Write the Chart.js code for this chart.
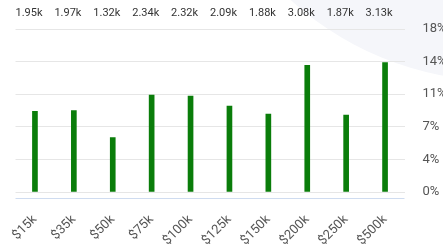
<!DOCTYPE html>
<html lang="en">
<head>
    <meta charset="UTF-8">
    <title>Income Distribution</title>
    <script src="https://cdn.jsdelivr.net/npm/chart.js"></script>
    <style>
        body {
            margin: 0;
            padding: 0;
            background: #fff;
            overflow: hidden;
        }

        /* a bit wider than the window so the right labels get cut like the original */
        .wrap {
            position: absolute;
            left: 0;
            top: 0;
            width: 460px;
            height: 248px;
        }
    </style>
</head>
<body>
    <div class="wrap"><canvas id="incomeChart"></canvas></div>

    <script>
        // Data
        const incomeLabels = ["$15k", "$35k", "$50k", "$75k", "$100k", "$125k", "$150k", "$200k", "$250k", "$500k"];
        const sharePercent = [8.9, 9.0, 6.0, 10.7, 10.6, 9.5, 8.6, 14.0, 8.5, 14.3];
        const countLabels = ["1.95k", "1.97k", "1.32k", "2.34k", "2.32k", "2.09k", "1.88k", "3.08k", "1.87k", "3.13k"];

        const fontFamily = "Roboto, 'Noto Sans', Arial, sans-serif";

        // faint circle in the top right corner + the bluish base line
        const decorPlugin = {
            id: "decor",
            beforeDraw(chart) {
                const c = chart.ctx;
                c.save();
                c.fillStyle = "#f5f6fa";
                c.beginPath();
                c.arc(500, -230, 311, 0, Math.PI * 2);
                c.fill();
                c.restore();
            },
            afterDraw(chart) {
                const c = chart.ctx;
                const area = chart.chartArea;
                c.save();
                c.strokeStyle = "#cfdcf0";
                c.lineWidth = 1;
                c.beginPath();
                c.moveTo(area.left, area.bottom + 6.5);
                c.lineTo(area.right, area.bottom + 6.5);
                c.stroke();
                c.restore();
            }
        };

        // count labels across the top, left aligned on each category
        const countPlugin = {
            id: "counts",
            afterDraw(chart) {
                const c = chart.ctx;
                const xScale = chart.scales.x;
                const slot = (xScale.right - xScale.left) / incomeLabels.length;
                c.save();
                c.font = "11px " + fontFamily;
                c.fillStyle = "#333";
                c.textAlign = "left";
                c.textBaseline = "middle";
                countLabels.forEach((txt, i) => {
                    c.fillText(txt, xScale.getPixelForValue(i) - slot / 2, 13);
                });
                c.restore();
            }
        };

        const ctx = document.getElementById("incomeChart").getContext("2d");
        new Chart(ctx, {
            type: "bar",
            data: {
                labels: incomeLabels,
                datasets: [{
                    data: sharePercent,
                    backgroundColor: "#0a7d0a",
                    barThickness: 5
                }]
            },
            options: {
                responsive: true,
                maintainAspectRatio: false,
                animation: false,
                layout: {
                    padding: { left: 15.5, top: 29, right: 0, bottom: 0 }
                },
                plugins: {
                    legend: { display: false },
                    tooltip: { enabled: false }
                },
                scales: {
                    x: {
                        grid: { display: false },
                        border: { display: false },
                        ticks: {
                            autoSkip: false,
                            minRotation: 45,
                            maxRotation: 45,
                            padding: 12,
                            color: "#555",
                            font: { size: 13, family: fontFamily }
                        },
                        afterFit(scale) { scale.height = 56; }
                    },
                    y: {
                        position: "right",
                        min: 0,
                        max: 18,
                        grid: { color: "#e6e6e6", drawTicks: false },
                        border: { display: false },
                        ticks: {
                            stepSize: 3.6,
                            padding: 18,
                            color: "#555",
                            font: { size: 13, family: fontFamily },
                            callback: v => Math.round(v) + "%"
                        },
                        afterFit(scale) { scale.width = 55.5; }
                    }
                }
            },
            plugins: [decorPlugin, countPlugin]
        });
    </script>
</body>
</html>
